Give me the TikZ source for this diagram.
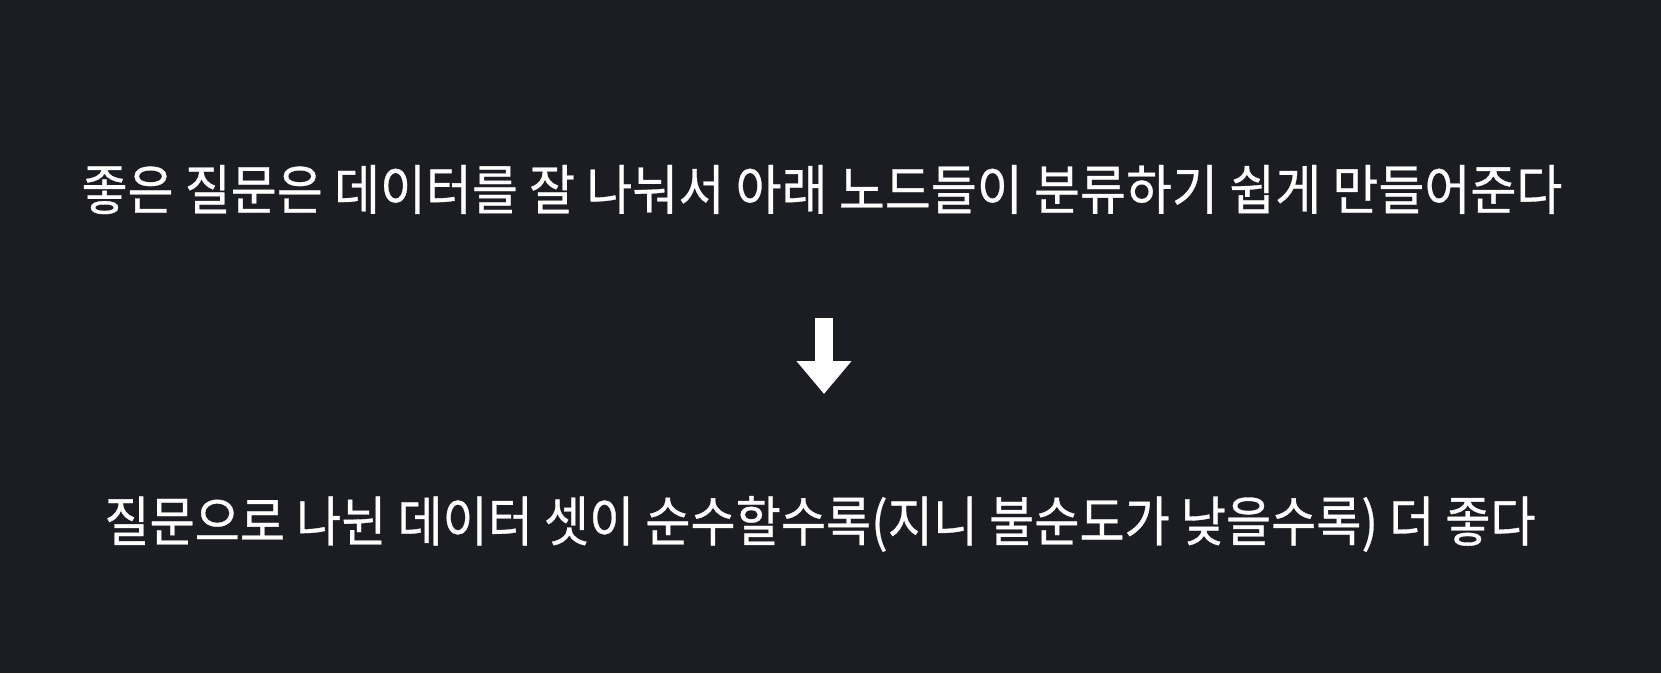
\documentclass[tikz,border=0pt]{standalone}
\usepackage{fontspec}
\newfontfamily\cjk[FakeBold=0.6]{Noto Sans CJK KR}
\usetikzlibrary{arrows.meta}
\usetikzlibrary{positioning}
\definecolor{bgdark}{RGB}{28,29,34}

\tikzset{
  msg/.style={text=white,font=\cjk\fontsize{50}{58}\selectfont,inner sep=0pt},
  bigarrow/.style={white,line width=18pt,-{Triangle[width=53pt,length=33pt]}}
}
\newcommand{\tall}[2][1]{\scalebox{#1}[1.08]{#2}}

\begin{document}
\begin{tikzpicture}[x=1pt,y=-1pt]
\fill[bgdark] (0,0) rectangle (1661,673);
\useasboundingbox (0,0) rectangle (1661,673);

\node[msg] (top) at (822,189.5) {\tall{좋은 질문은 데이터를 잘 나눠서 아래 노드들이 분류하기 쉽게 만들어준다}};
\node[msg] (bottom) at (820,524) {\tall[0.982]{질문으로 나뉜 데이터 셋이 순수할수록(지니 불순도가 낮을수록) 더 좋다}};

\coordinate (from) at (824,318);
\coordinate (to) at (824,394);
\draw[bigarrow] (from) -- (to);
\end{tikzpicture}
\end{document}
